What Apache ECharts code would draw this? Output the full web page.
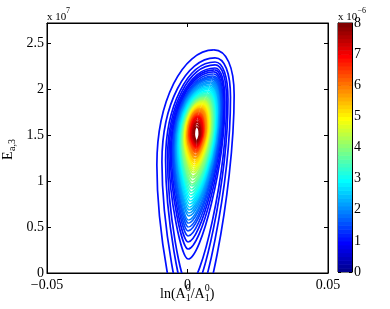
<!DOCTYPE html>
<html><head><meta charset="utf-8">
<script src="https://cdn.jsdelivr.net/npm/echarts@6/dist/echarts.min.js"></script>
<style>html,body{margin:0;padding:0;background:#fff}#c{width:390px;height:309px}</style>
</head><body><div id="c"></div>
<script>
// Contour levels (x 1e-6), outermost first
const levels = [0.157,0.314,0.471,0.627,0.784,0.941,1.098,1.255,1.412,1.569,1.725,1.882,2.039,2.196,2.353,2.510,2.667,2.824,2.980,3.137,3.294,3.451,3.608,3.765,3.922,4.078,4.235,4.392,4.549,4.706,4.863,5.020,5.176,5.333,5.490,5.647,5.804,5.961,6.118,6.275,6.431,6.588,6.745,6.902,7.059,7.216,7.373,7.529,7.686,7.843];
// Highest point of each contour: E (x 1e7) and ln(A1/A1^0)
const topE = [2.424,2.337,2.293,2.261,2.228,2.207,2.185,2.163,2.141,2.125,2.109,2.092,2.076,2.060,2.043,2.027,2.011,1.995,1.978,1.962,1.946,1.935,1.924,1.913,1.902,1.891,1.880,1.870,1.859,1.848,1.837,1.826,1.815,1.804,1.793,1.783,1.772,1.761,1.750,1.739,1.728,1.717,1.707,1.696,1.685,1.668,1.652,1.636,1.614,1.587];
const topX = [0.0094,0.0098,0.0098,0.0098,0.0098,0.0096,0.0094,0.0093,0.0091,0.0089,0.0087,0.0085,0.0084,0.0082,0.0080,0.0078,0.0077,0.0075,0.0073,0.0071,0.0069,0.0068,0.0066,0.0064,0.0062,0.0061,0.0059,0.0057,0.0055,0.0053,0.0052,0.0050,0.0049,0.0047,0.0046,0.0045,0.0043,0.0042,0.0041,0.0040,0.0039,0.0038,0.0037,0.0037,0.0036,0.0035,0.0035,0.0034,0.0033,0.0032];
// Lowest point of each contour (negative = below the axis, contour open there)
const bottomE = [-0.728,-0.489,-0.293,-0.141,0.152,0.261,0.337,0.402,0.457,0.500,0.543,0.576,0.620,0.652,0.685,0.717,0.750,0.783,0.815,0.848,0.880,0.913,0.946,0.967,1.000,1.033,1.054,1.087,1.109,1.130,1.152,1.174,1.196,1.217,1.239,1.250,1.272,1.283,1.304,1.315,1.332,1.348,1.359,1.370,1.380,1.391,1.402,1.413,1.424,1.435];
const bottomX = [0.0002,0.0002,0.0002,0.0002,0.0002,0.0002,0.0002,0.0002,0.0002,0.0003,0.0003,0.0004,0.0005,0.0005,0.0006,0.0007,0.0008,0.0010,0.0011,0.0012,0.0013,0.0014,0.0015,0.0016,0.0017,0.0018,0.0019,0.0020,0.0021,0.0022,0.0023,0.0024,0.0025,0.0025,0.0026,0.0027,0.0027,0.0028,0.0029,0.0030,0.0030,0.0031,0.0031,0.0031,0.0032,0.0032,0.0032,0.0032,0.0032,0.0032];
// Leftmost point of each contour
const leftX = [-0.0109,-0.0091,-0.0078,-0.0071,-0.0066,-0.0061,-0.0057,-0.0053,-0.0051,-0.0048,-0.0046,-0.0043,-0.0041,-0.0039,-0.0037,-0.0035,-0.0032,-0.0030,-0.0028,-0.0026,-0.0024,-0.0022,-0.0021,-0.0019,-0.0017,-0.0015,-0.0014,-0.0012,-0.0011,-0.0010,-0.0008,-0.0007,-0.0005,-0.0004,-0.0002,-0.0001,0.0000,0.0002,0.0003,0.0005,0.0006,0.0007,0.0009,0.0011,0.0012,0.0014,0.0016,0.0018,0.0021,0.0024];
const leftE = [1.174,1.207,1.228,1.250,1.272,1.293,1.304,1.315,1.326,1.337,1.348,1.359,1.364,1.370,1.375,1.380,1.386,1.391,1.397,1.402,1.408,1.413,1.418,1.424,1.429,1.435,1.440,1.446,1.451,1.457,1.460,1.463,1.466,1.470,1.473,1.476,1.479,1.483,1.486,1.489,1.491,1.493,1.496,1.498,1.500,1.502,1.504,1.507,1.509,1.511];
// Rightmost point of each contour
const rightX = [0.0166,0.0153,0.0144,0.0139,0.0133,0.0130,0.0126,0.0124,0.0121,0.0119,0.0116,0.0114,0.0112,0.0110,0.0108,0.0106,0.0104,0.0101,0.0099,0.0097,0.0095,0.0093,0.0091,0.0089,0.0086,0.0084,0.0083,0.0081,0.0079,0.0077,0.0075,0.0074,0.0072,0.0070,0.0068,0.0067,0.0065,0.0063,0.0061,0.0059,0.0058,0.0057,0.0055,0.0054,0.0052,0.0051,0.0049,0.0047,0.0045,0.0042];
const rightE = [1.935,1.913,1.891,1.880,1.859,1.848,1.837,1.826,1.815,1.804,1.793,1.783,1.772,1.761,1.750,1.739,1.728,1.717,1.707,1.696,1.685,1.674,1.663,1.652,1.647,1.641,1.636,1.630,1.625,1.620,1.614,1.609,1.603,1.598,1.592,1.587,1.582,1.576,1.571,1.565,1.560,1.554,1.549,1.543,1.538,1.533,1.527,1.522,1.516,1.511];

const xTicks = [-0.05, 0, 0.05];
const yTicks = [0, 0.5, 1, 1.5, 2, 2.5];
const cbTicks = [0, 1, 2, 3, 4, 5, 6, 7, 8];
const xRange = [-0.05, 0.05];
const yRange = [0, 2.717];
const cRange = [0, 8];

const SERIF = 'Liberation Serif';
const NCMAP = 64;
function jet(f) {
  const cl = v => Math.max(0, Math.min(1, v));
  const r = cl(1.5 - Math.abs(4 * f - 3)), g = cl(1.5 - Math.abs(4 * f - 2)), b = cl(1.5 - Math.abs(4 * f - 1));
  return 'rgb(' + Math.round(r * 255) + ',' + Math.round(g * 255) + ',' + Math.round(b * 255) + ')';
}
function levelColor(v) {
  const idx = Math.min(NCMAP, Math.floor((v - cRange[0]) / (cRange[1] - cRange[0]) * NCMAP) + 1);
  return jet(Math.max(idx / NCMAP, 0.14));
}
// bezier handle factors (shape style)
const K = {top: 0.62, rt: 0.62, rb: 0.4, b: 0.35, lb: 0.4, lt: 0.55, tl: 0.55};

function renderContour(params, api) {
  const i = params.dataIndex;
  const T = api.coord([topX[i], topE[i]]);
  const B = api.coord([bottomX[i], bottomE[i]]);
  const L = api.coord([leftX[i], leftE[i]]);
  const R = api.coord([rightX[i], rightE[i]]);
  const col = levelColor(levels[i]);
  const seg = (p0, c1, c2, p1) => ({
    type: 'bezierCurve',
    shape: {x1: p0[0], y1: p0[1], cpx1: c1[0], cpy1: c1[1], cpx2: c2[0], cpy2: c2[1], x2: p1[0], y2: p1[1]},
    style: {stroke: col, fill: 'none', lineWidth: 1.7}
  });
  return {type: 'group', children: [
    seg(T, [T[0] + K.top * (R[0] - T[0]), T[1]], [R[0], R[1] - K.rt * (R[1] - T[1])], R),
    seg(R, [R[0], R[1] + K.rb * (B[1] - R[1])], [B[0] + K.b * (R[0] - B[0]), B[1]], B),
    seg(B, [B[0] - K.b * (B[0] - L[0]), B[1]], [L[0], L[1] + K.lb * (B[1] - L[1])], L),
    seg(L, [L[0], L[1] - K.lt * (L[1] - T[1])], [T[0] - K.tl * (T[0] - L[0]), T[1]], T)
  ]};
}

const cbBands = [];
for (let i = 1; i <= NCMAP; i++) cbBands.push(i);
function renderBand(params, api) {
  const i = cbBands[params.dataIndex];
  const span = cRange[1] - cRange[0];
  const p0 = api.coord([0, cRange[0] + span * (i - 1) / NCMAP]);
  const p1 = api.coord([1, cRange[0] + span * i / NCMAP]);
  return {type: 'rect', shape: {x: p0[0], y: p1[1], width: p1[0] - p0[0], height: p0[1] - p1[1] + 0.6},
    style: {fill: jet(i / NCMAP)}};
}

const lab = {color: '#000', fontFamily: SERIF, fontSize: 14};
const tickStyle = {color: '#000', width: 1};
const isTick = (v, arr) => arr.some(t => Math.abs(t - v) < 1e-9);

const chart = echarts.init(document.getElementById('c'), null, {renderer: 'canvas'});
chart.setOption({
  animation: false,
  backgroundColor: '#fff',
  grid: [
    {left: 47, top: 23, width: 281, height: 250, show: true, borderColor: '#000', borderWidth: 1, backgroundColor: '#fff'},
    {left: 338, top: 23, width: 14, height: 249, show: true, borderColor: '#000', borderWidth: 1}
  ],
  xAxis: [
    {gridIndex: 0, type: 'value', min: xRange[0], max: xRange[1], interval: 0.05, position: 'bottom',
      axisLine: {show: true, onZero: false, lineStyle: tickStyle},
      axisTick: {show: true, inside: true, length: 4, lineStyle: tickStyle},
      axisLabel: Object.assign({}, lab, {margin: 5, formatter: v => isTick(v, xTicks) ? (v < 0 ? '\u2212' + Math.abs(v) : String(v)) : ''}),
      splitLine: {show: false}},
    {gridIndex: 0, type: 'value', min: xRange[0], max: xRange[1], interval: 0.05, position: 'top',
      axisLine: {show: true, onZero: false, lineStyle: tickStyle},
      axisTick: {show: true, inside: true, length: 4, lineStyle: tickStyle},
      axisLabel: {show: false}, splitLine: {show: false}},
    {gridIndex: 1, type: 'value', min: 0, max: 1, show: false}
  ],
  yAxis: [
    {gridIndex: 0, type: 'value', min: yRange[0], max: yRange[1], interval: 0.5, position: 'left',
      axisLine: {show: true, onZero: false, lineStyle: tickStyle},
      axisTick: {show: true, inside: true, length: 4, lineStyle: tickStyle},
      axisLabel: Object.assign({}, lab, {margin: 3, formatter: v => isTick(v, yTicks) ? String(v) : ''}),
      splitLine: {show: false}},
    {gridIndex: 0, type: 'value', min: yRange[0], max: yRange[1], interval: 0.5, position: 'right',
      axisLine: {show: true, onZero: false, lineStyle: tickStyle},
      axisTick: {show: true, inside: true, length: 4, lineStyle: tickStyle},
      axisLabel: {show: false}, splitLine: {show: false}},
    {gridIndex: 1, type: 'value', min: cRange[0], max: cRange[1], interval: 1, position: 'right',
      axisLine: {show: true, onZero: false, lineStyle: tickStyle},
      axisTick: {show: true, inside: true, length: 3, lineStyle: tickStyle},
      axisLabel: Object.assign({}, lab, {margin: 2, formatter: v => isTick(v, cbTicks) ? String(v) : ''}),
      splitLine: {show: false}},
    {gridIndex: 1, type: 'value', min: cRange[0], max: cRange[1], interval: 1, position: 'left',
      axisLine: {show: true, onZero: false, lineStyle: tickStyle},
      axisTick: {show: true, inside: true, length: 3, lineStyle: tickStyle},
      axisLabel: {show: false}, splitLine: {show: false}}
  ],
  series: [
    {type: 'custom', name: 'density', xAxisIndex: 0, yAxisIndex: 0, clip: true, z: 1,
      renderItem: renderContour,
      encode: {x: 0, y: 1},
      data: levels.map((lv, i) => [topX[i], topE[i], lv])},
    {type: 'custom', name: 'colorbar', xAxisIndex: 2, yAxisIndex: 2, clip: true, z: 1,
      renderItem: renderBand,
      encode: {x: 0, y: 1},
      data: cbBands.map(i => [0.5, cRange[0] + (cRange[1] - cRange[0]) * (i - 0.5) / NCMAP])}
  ],
  graphic: [
    {type: 'text', x: 47, y: 17, style: {text: 'x 10', font: '11px "' + SERIF + '"', fill: '#000', align: 'left', verticalAlign: 'middle'}},
    {type: 'text', x: 66, y: 11, style: {text: '7', font: '8px "' + SERIF + '"', fill: '#000', align: 'left', verticalAlign: 'middle'}},
    {type: 'text', x: 338, y: 17, style: {text: 'x 10', font: '11px "' + SERIF + '"', fill: '#000', align: 'left', verticalAlign: 'middle'}},
    {type: 'text', x: 357.5, y: 11, style: {text: '\u22126', font: '8px "' + SERIF + '"', fill: '#000', align: 'left', verticalAlign: 'middle'}},
    {type: 'group', x: 13.5, y: 160, rotation: Math.PI / 2, children: [
      {type: 'text', x: 0, y: -5, style: {text: 'E', font: '14px "' + SERIF + '"', fill: '#000', align: 'left', verticalAlign: 'middle'}},
      {type: 'text', x: 9, y: -1.3, style: {text: 'a,3', font: '10px "' + SERIF + '"', fill: '#000', align: 'left', verticalAlign: 'middle'}}
    ]},
    {type: 'text', x: 160, y: 294, style: {text: 'ln(A', font: '14px "' + SERIF + '"', fill: '#000', align: 'left', verticalAlign: 'middle'}},
    {type: 'text', x: 185.7, y: 298, style: {text: '1', font: '10px "' + SERIF + '"', fill: '#000', align: 'left', verticalAlign: 'middle'}},
    {type: 'text', x: 185.7, y: 288, style: {text: '0', font: '10px "' + SERIF + '"', fill: '#000', align: 'left', verticalAlign: 'middle'}},
    {type: 'text', x: 190.7, y: 294, style: {text: '/A', font: '14px "' + SERIF + '"', fill: '#000', align: 'left', verticalAlign: 'middle'}},
    {type: 'text', x: 204.7, y: 298, style: {text: '1', font: '10px "' + SERIF + '"', fill: '#000', align: 'left', verticalAlign: 'middle'}},
    {type: 'text', x: 204.7, y: 288, style: {text: '0', font: '10px "' + SERIF + '"', fill: '#000', align: 'left', verticalAlign: 'middle'}},
    {type: 'text', x: 209.7, y: 294, style: {text: ')', font: '14px "' + SERIF + '"', fill: '#000', align: 'left', verticalAlign: 'middle'}}
  ]
});
</script>
</body></html>
